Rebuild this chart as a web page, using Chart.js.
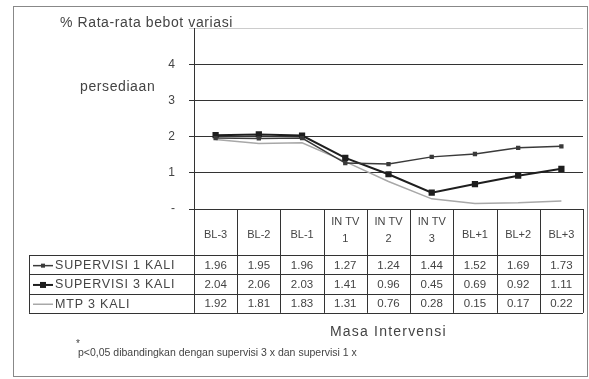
<!DOCTYPE html>
<html>
<head>
<meta charset="utf-8">
<script src="https://cdn.jsdelivr.net/npm/chart.js@4.4.1/dist/chart.umd.min.js"></script>
<style>
  html, body { margin: 0; padding: 0; background: #fff; }
  #wrap { width: 589px; height: 379px; position: relative; }
</style>
</head>
<body>
<div id="wrap"><canvas id="chart"></canvas></div>
<script>
// ---- data ----
const categories = ['BL-3', 'BL-2', 'BL-1', 'INTV1', 'INTV2', 'INTV3', 'BL+1', 'BL+2', 'BL+3'];
const headerLines = [['BL-3'], ['BL-2'], ['BL-1'], ['IN TV', '1'], ['IN TV', '2'], ['IN TV', '3'], ['BL+1'], ['BL+2'], ['BL+3']];
const supervisi1 = [1.96, 1.95, 1.96, 1.27, 1.24, 1.44, 1.52, 1.69, 1.73];
const supervisi3 = [2.04, 2.06, 2.03, 1.41, 0.96, 0.45, 0.69, 0.92, 1.11];
const mtp3 = [1.92, 1.81, 1.83, 1.31, 0.76, 0.28, 0.15, 0.17, 0.22];
const seriesNames = ['SUPERVISI 1 KALI', 'SUPERVISI 3 KALI', 'MTP 3 KALI'];
const yTickLabels = ['-', '1', '2', '3', '4', ''];

const FONT = "'Liberation Sans', Arial, sans-serif";
const TXT = '#444';

// ---- data table + extra texts (Excel style) ----
const tablePlugin = {
    id: 'dataTable',
    afterDraw(chart) {
        const ctx = chart.ctx;
        const x = chart.scales.x;
        const area = chart.chartArea;
        const colW = (area.right - area.left) / categories.length;
        const top = area.bottom;
        const headBottom = 255;
        const rowH = 19.3;
        const labelLeft = 29;
        const tableBottom = headBottom + rowH * 3;

        ctx.save();
        // outer border
        ctx.strokeStyle = '#888';
        ctx.lineWidth = 1;
        ctx.strokeRect(13.5, 6.5, 574, 370);

        // grid of the table
        ctx.strokeStyle = '#333';
        ctx.beginPath();
        for (let i = 0; i <= categories.length; i++) {
            const xx = Math.round(area.left + i * colW) + 0.5;
            ctx.moveTo(xx, top);
            ctx.lineTo(xx, tableBottom);
        }
        for (let r = 0; r <= 3; r++) {
            const yy = Math.round(headBottom + r * rowH) + 0.5;
            ctx.moveTo(labelLeft, yy);
            ctx.lineTo(area.right, yy);
        }
        ctx.moveTo(labelLeft + 0.5, headBottom);
        ctx.lineTo(labelLeft + 0.5, tableBottom);
        ctx.stroke();

        // header labels
        ctx.fillStyle = TXT;
        ctx.font = '11px ' + FONT;
        ctx.textAlign = 'center';
        ctx.textBaseline = 'middle';
        headerLines.forEach((lines, i) => {
            const cx = x.getPixelForValue(i);
            if (lines.length === 1) {
                ctx.fillText(lines[0], cx, (top + headBottom) / 2 + 3);
            } else {
                ctx.fillText(lines[0], cx, top + 13);
                ctx.fillText(lines[1], cx, top + 30);
            }
        });

        // rows
        const rows = [supervisi1, supervisi3, mtp3];
        rows.forEach((vals, r) => {
            const cy = headBottom + r * rowH + rowH / 2 + 1;
            ctx.font = '11.5px ' + FONT;
            vals.forEach((v, i) => {
                ctx.fillStyle = TXT;
                ctx.textAlign = 'center';
                ctx.fillText(v.toFixed(2), x.getPixelForValue(i), cy);
            });
            // legend key
            const ds = chart.data.datasets[r];
            ctx.strokeStyle = ds.borderColor;
            ctx.lineWidth = ds.borderWidth;
            ctx.beginPath();
            ctx.moveTo(33, cy);
            ctx.lineTo(53, cy);
            ctx.stroke();
            if (ds.pointRadius > 0) {
                const s = ds.pointRadius;
                ctx.fillStyle = ds.borderColor;
                ctx.fillRect(43 - s, cy - s, s * 2, s * 2);
            }
            ctx.fillStyle = TXT;
            ctx.textAlign = 'left';
            ctx.font = '12.5px ' + FONT;
            ctx.letterSpacing = '0.8px';
            ctx.fillText(seriesNames[r], 55, cy);
            ctx.letterSpacing = '0px';
        });

        // axis titles
        ctx.fillStyle = TXT;
        ctx.textAlign = 'left';
        ctx.font = '14px ' + FONT;
        ctx.letterSpacing = '0.6px';
        ctx.fillText('% Rata-rata bebot variasi', 60, 23);
        ctx.fillText('persediaan', 80, 87);
        ctx.font = '14px ' + FONT;
        ctx.letterSpacing = '1.2px';
        ctx.fillText('Masa Intervensi', 330, 332);
        ctx.letterSpacing = '0px';
        ctx.font = '10px ' + FONT;
        ctx.fillText('*', 76, 344);
        ctx.font = '10.5px ' + FONT;
        ctx.fillText('p<0,05 dibandingkan dengan supervisi 3 x dan supervisi 1 x', 78, 353);
        ctx.restore();
    }
};

new Chart(document.getElementById('chart'), {
    type: 'line',
    data: {
        labels: categories,
        datasets: [
            {
                label: seriesNames[0],
                data: supervisi1,
                borderColor: '#3a3a3a',
                backgroundColor: '#3a3a3a',
                borderWidth: 1.5,
                pointStyle: 'rect',
                pointRadius: 2,
                tension: 0
            },
            {
                label: seriesNames[1],
                data: supervisi3,
                borderColor: '#1e1e1e',
                backgroundColor: '#1e1e1e',
                borderWidth: 2,
                pointStyle: 'rect',
                pointRadius: 3,
                tension: 0
            },
            {
                label: seriesNames[2],
                data: mtp3,
                borderColor: '#a8a8a8',
                backgroundColor: '#a8a8a8',
                borderWidth: 1.5,
                pointRadius: 0,
                tension: 0
            }
        ]
    },
    options: {
        responsive: true,
        maintainAspectRatio: false,
        animation: false,
        layout: { padding: { left: 150, right: 6, top: 28, bottom: 170 } },
        plugins: {
            legend: { display: false },
            tooltip: { enabled: false }
        },
        scales: {
            x: {
                display: false,
                offset: true
            },
            y: {
                min: 0,
                max: 5,
                afterFit(scale) { scale.width = 44; },
                ticks: {
                    stepSize: 1,
                    color: TXT,
                    padding: 14,
                    font: { family: FONT, size: 12 },
                    callback: (v) => yTickLabels[v]
                },
                grid: {
                    color: (c) => c.tick && c.tick.value === 5 ? '#ccc' : '#333',
                    lineWidth: 1,
                    tickLength: 5,
                    drawTicks: true
                },
                border: { display: true, color: '#333', width: 1 }
            }
        }
    },
    plugins: [tablePlugin]
});
</script>
</body>
</html>
